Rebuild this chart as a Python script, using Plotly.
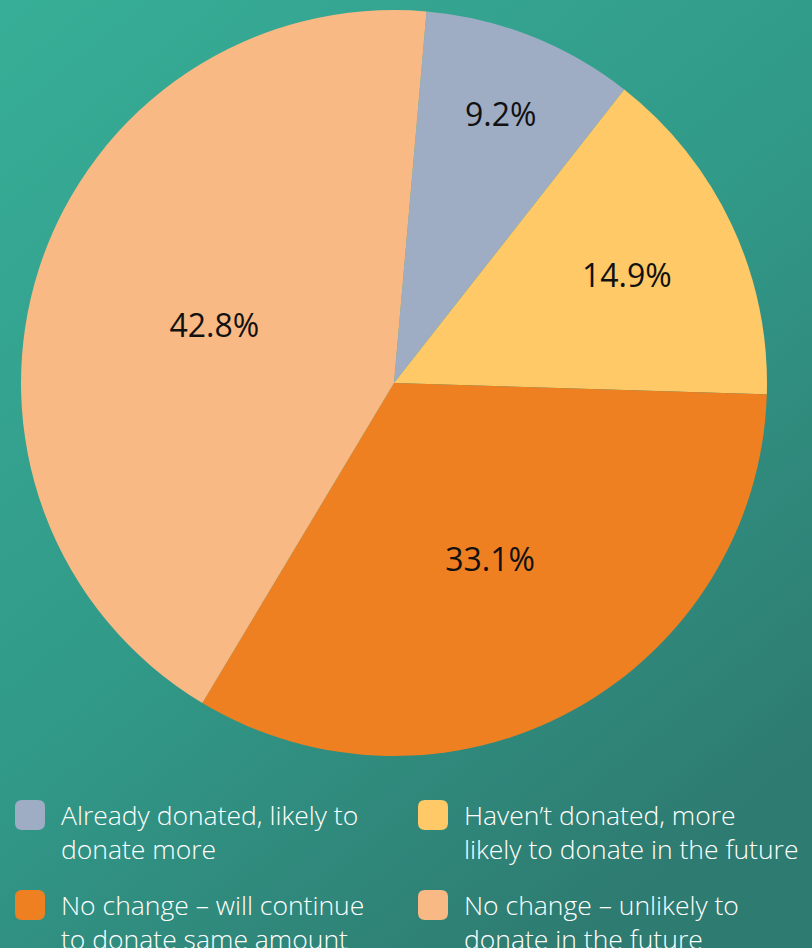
import plotly.graph_objects as go

labels = ["Already donated, likely to<br>donate more",
          "Haven\u2019t donated, more<br>likely to donate in the future",
          "No change \u2013 will continue<br>to donate same amount",
          "No change \u2013 unlikely to<br>donate in the future"]
values = [9.2, 14.9, 33.1, 42.8]
colors = ["#9fadc4", "#fec966", "#ef8021", "#f8b985"]

W, H = 812, 948
cx, cy, r = 394, 383, 373

fig = go.Figure(go.Pie(
    labels=labels, values=values, sort=False, direction="clockwise", rotation=5,
    marker=dict(colors=colors, line=dict(width=0)),
    texttemplate="%{value:.1f}%", textposition="inside", insidetextorientation="horizontal",
    textfont=dict(family="Open Sans", size=32, color="#111111"),
    hoverinfo="label+percent", showlegend=False,
    domain=dict(x=[(cx - r) / W, (cx + r) / W], y=[(H - cy - r) / H, (H - cy + r) / H]),
))

svg = ("data:image/svg+xml;utf8,<svg xmlns='http://www.w3.org/2000/svg' width='812' height='948'>"
       "<defs><linearGradient id='g' x1='0' y1='0' x2='0.7' y2='1'>"
       "<stop offset='0' stop-color='%2337ae97'/><stop offset='0.55' stop-color='%23319988'/>"
       "<stop offset='1' stop-color='%232e7b71'/></linearGradient></defs>"
       "<rect width='812' height='948' fill='url(%23g)'/></svg>")

shapes, annotations = [], []
col_x = [15, 418]
row_y = [800, 890]
s, rr = 30, 7
for i, (lab, col) in enumerate(zip(labels, colors)):
    x0 = col_x[i % 2]
    y0 = row_y[i // 2]
    x1, y1 = x0 + s, y0 + s
    def px(x):
        return x / W
    def py(y):
        return (H - y) / H
    path = (f"M{px(x0+rr)},{py(y0)} L{px(x1-rr)},{py(y0)} Q{px(x1)},{py(y0)} {px(x1)},{py(y0+rr)} "
            f"L{px(x1)},{py(y1-rr)} Q{px(x1)},{py(y1)} {px(x1-rr)},{py(y1)} "
            f"L{px(x0+rr)},{py(y1)} Q{px(x0)},{py(y1)} {px(x0)},{py(y1-rr)} "
            f"L{px(x0)},{py(y0+rr)} Q{px(x0)},{py(y0)} {px(x0+rr)},{py(y0)} Z")
    shapes.append(dict(type="path", xref="paper", yref="paper", path=path,
                       fillcolor=col, line=dict(width=0), layer="above"))
    annotations.append(dict(x=px(x0 + s + 14), y=py(y0 + 32), xref="paper", yref="paper",
                            text=lab, showarrow=False, xanchor="left", yanchor="middle", align="left",
                            font=dict(family="Open Sans", size=26.5, color="#ffffff", weight=300)))

fig.update_layout(
    width=W, height=H, margin=dict(l=0, r=0, t=0, b=0),
    paper_bgcolor="#329a8a", plot_bgcolor="rgba(0,0,0,0)",
    images=[dict(source=svg, xref="paper", yref="paper", x=0, y=1, sizex=1, sizey=1,
                 xanchor="left", yanchor="top", sizing="stretch", layer="below")],
    shapes=shapes, annotations=annotations,
)
fig.write_html("out.html")
